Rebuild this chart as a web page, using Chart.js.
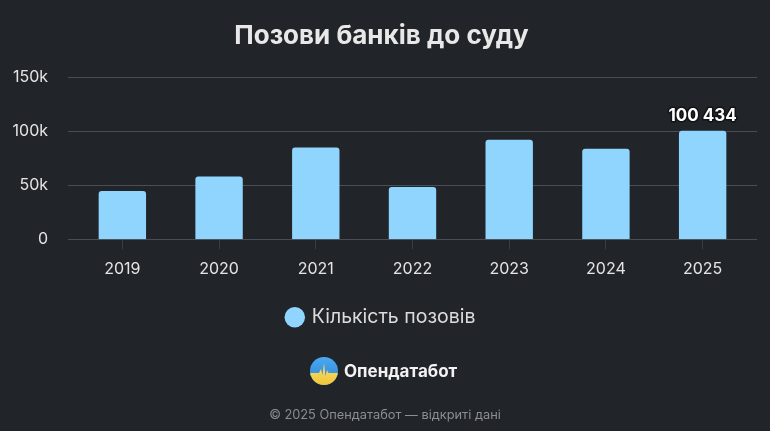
<!DOCTYPE html>
<html>
<head>
<meta charset="utf-8">
<script src="https://cdn.jsdelivr.net/npm/chart.js@4.4.1/dist/chart.umd.min.js"></script>
<style>
  html, body { margin: 0; padding: 0; background: #212429; }
  #wrap { position: relative; width: 770px; height: 431px; overflow: hidden; background: #212429; }
  canvas { position: absolute; left: 0; top: 0; }
  #brand { position: absolute; left: 310px; top: 357px; height: 28px; display: flex; align-items: center;
           font-family: Inter, "Noto Sans", sans-serif; font-weight: 700; font-size: 17px; color: #f2f2f2; }
  #brand svg { margin-right: 6px; }
  #footer { position: absolute; left: 0; width: 770px; top: 407px; text-align: center;
            font-family: Inter, "Noto Sans", sans-serif; font-size: 12.8px; color: #8b8e93; }
</style>
</head>
<body>
<div id="wrap">
  <canvas id="c" width="770" height="431"></canvas>
  <div id="brand">
    <svg width="28" height="28" viewBox="0 0 28 28">
      <defs>
        <clipPath id="cc"><circle cx="14" cy="14" r="14"/></clipPath>
        <linearGradient id="gb" x1="0" y1="0" x2="0" y2="1">
          <stop offset="0" stop-color="#4aa8f0"/><stop offset="1" stop-color="#2f86d6"/>
        </linearGradient>
        <linearGradient id="gy" x1="0" y1="0" x2="0" y2="1">
          <stop offset="0" stop-color="#fbe06a"/><stop offset="1" stop-color="#f0c43a"/>
        </linearGradient>
      </defs>
      <g clip-path="url(#cc)">
        <rect x="0" y="0" width="28" height="28" fill="url(#gb)"/>
        <path d="M0 16 L9 16 L11 12 L12.5 18 L14 6 L15.5 19 L17 13 L18.5 16 L28 16 L28 28 L0 28 Z" fill="url(#gy)"/>
      </g>
    </svg>
    <span>Опендатабот</span>
  </div>
  <div id="footer">© 2025 Опендатабот — відкриті дані</div>
</div>
<script>
const titleText = "Позови банків до суду";
const seriesLabel = "Кількість позовів";
const years = ["2019", "2020", "2021", "2022", "2023", "2024", "2025"];
const lawsuits = [44800, 58000, 85000, 48500, 92200, 83900, 100434];
const yTicks = [0, 50000, 100000, 150000];
const yTickLabels = ["0", "50k", "100k", "150k"];
const highlightIndex = 6;

const FONT = 'Inter, "Noto Sans", sans-serif';
const BAR = '#8fd5fe';
const GRID = '#4a4d53';

const gridPlugin = {
  id: 'extGrid',
  beforeDatasetsDraw(chart) {
    const { ctx, chartArea, scales } = chart;
    const y = scales.y;
    ctx.save();
    ctx.strokeStyle = GRID;
    ctx.lineWidth = 1;
    yTicks.forEach(v => {
      const py = Math.round(y.getPixelForValue(v)) + 0.5;
      ctx.beginPath();
      ctx.moveTo(chartArea.left - 6, py);
      ctx.lineTo(chartArea.right + 6, py);
      ctx.stroke();
    });
    ctx.restore();
  }
};

const labelPlugin = {
  id: 'valueLabel',
  afterDatasetsDraw(chart) {
    const { ctx } = chart;
    const bar = chart.getDatasetMeta(0).data[highlightIndex];
    const v = lawsuits[highlightIndex];
    const txt = v.toLocaleString('en-US').replace(/,/g, ' ');
    ctx.save();
    ctx.font = 'bold 17px ' + FONT;
    ctx.textAlign = 'center';
    ctx.textBaseline = 'alphabetic';
    ctx.lineJoin = 'round';
    ctx.lineWidth = 3;
    ctx.strokeStyle = '#111316';
    ctx.strokeText(txt, bar.x, bar.y - 10);
    ctx.fillStyle = '#ffffff';
    ctx.fillText(txt, bar.x, bar.y - 10);
    ctx.restore();
  }
};

new Chart(document.getElementById('c'), {
  type: 'bar',
  data: {
    labels: years,
    datasets: [{
      label: seriesLabel,
      data: lawsuits,
      backgroundColor: BAR,
      borderWidth: 0,
      borderRadius: { topLeft: 3, topRight: 3 },
      borderSkipped: 'bottom',
      barPercentage: 1,
      categoryPercentage: 0.49
    }]
  },
  options: {
    responsive: false,
    animation: false,
    devicePixelRatio: 1,
    layout: { padding: { left: 12, right: 19, top: 0, bottom: 94 } },
    plugins: {
      title: {
        display: true,
        text: titleText,
        color: '#e8e8e8',
        font: { family: FONT, size: 26, weight: 'bold' },
        padding: { top: 21, bottom: 25 }
      },
      legend: {
        display: true,
        position: 'bottom',
        labels: {
          color: '#dcdcdc',
          font: { family: FONT, size: 19.5 },
          usePointStyle: true,
          pointStyle: 'circle',
          boxWidth: 14.5,
          boxHeight: 14.5,
          padding: 19
        }
      },
      tooltip: { enabled: false }
    },
    scales: {
      x: {
        offset: true,
        grid: { display: true, drawOnChartArea: false, drawTicks: true, tickLength: 10, color: '#3a3d42', offset: false },
        border: { display: false },
        ticks: { color: '#e4e4e4', font: { family: FONT, size: 16 }, padding: 10 }
      },
      y: {
        min: 0,
        max: 150000,
        afterBuildTicks(scale) { scale.ticks = yTicks.map(v => ({ value: v })); },
        afterFit(scale) { scale.width = 62; },
        grid: { display: false, drawTicks: false },
        border: { display: false },
        ticks: {
          color: '#e4e4e4',
          font: { family: FONT, size: 16 },
          padding: 26,
          callback: (v) => yTickLabels[yTicks.indexOf(v)]
        }
      }
    }
  },
  plugins: [gridPlugin, labelPlugin]
});
</script>
</body>
</html>
